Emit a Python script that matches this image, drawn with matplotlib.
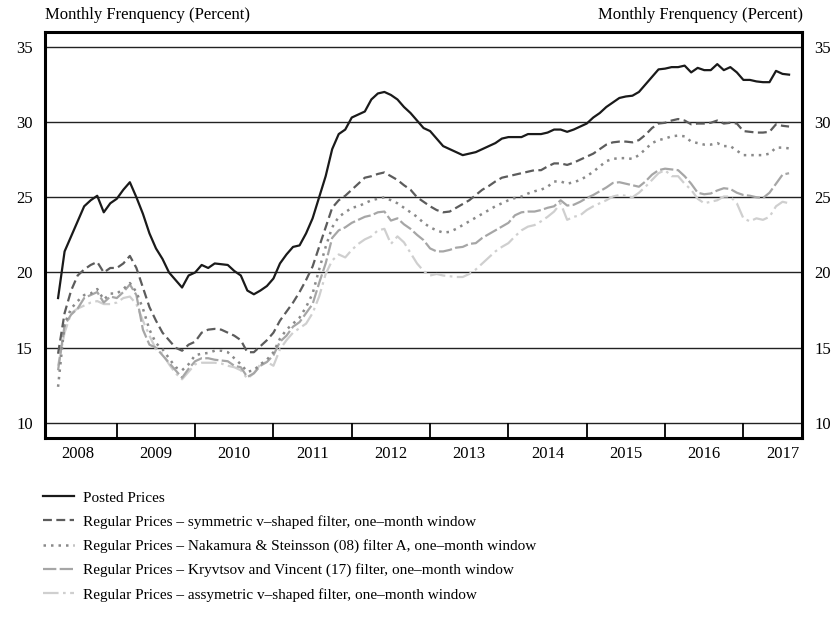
import numpy as np
import matplotlib.pyplot as plt
from matplotlib.ticker import FixedLocator, NullFormatter

plt.rcParams['font.family'] = ['Liberation Serif', 'DejaVu Serif']

# monthly values, Apr 2008 .. Aug 2017
posted = [18.3, 21.4, 22.4, 23.4, 24.4, 24.8, 25.1, 24.0, 24.6,
          24.9, 25.5, 26.0, 25.0, 23.9, 22.6, 21.6, 20.9, 20.0, 19.5, 19.0, 19.8,
          20.0, 20.5, 20.3, 20.6, 20.55, 20.5, 20.1, 19.8, 18.8, 18.55, 18.8, 19.1,
          19.6, 20.6, 21.2, 21.7, 21.8, 22.6, 23.6, 25.0, 26.4, 28.2, 29.2, 29.5,
          30.3, 30.5, 30.7, 31.5, 31.9, 32.0, 31.8, 31.5, 31.0, 30.6, 30.1, 29.6,
          29.4, 28.9, 28.4, 28.2, 28.0, 27.8, 27.9, 28.0, 28.2, 28.4, 28.6, 28.9,
          29.0, 29.0, 29.0, 29.2, 29.2, 29.2, 29.3, 29.5, 29.5, 29.35, 29.5, 29.7,
          29.9, 30.3, 30.6, 31.0, 31.3, 31.6, 31.7, 31.75, 32.0, 32.5, 33.0, 33.5,
          33.55, 33.65, 33.65, 33.75, 33.3, 33.6, 33.45, 33.45, 33.85, 33.45, 33.65, 33.3,
          32.8, 32.8, 32.7, 32.65, 32.65, 33.4, 33.2, 33.15]

sym_v = [14.6, 17.3, 18.8, 19.8, 20.2, 20.5, 20.7, 20.0, 20.3,
         20.3, 20.6, 21.1, 20.3, 19.0, 17.7, 16.8, 16.0, 15.5, 15.0, 14.8, 15.2,
         15.4, 16.0, 16.2, 16.25, 16.2, 16.0, 15.8, 15.5, 14.7, 14.7, 15.1, 15.5,
         16.0, 16.8, 17.4, 18.0, 18.7, 19.5, 20.4, 21.7, 23.0, 24.3, 24.8, 25.1,
         25.5, 25.9, 26.3, 26.4, 26.55, 26.65, 26.4, 26.15, 25.8, 25.5, 25.0, 24.7,
         24.4, 24.15, 24.0, 24.05, 24.3, 24.55, 24.8, 25.15, 25.5, 25.75, 26.05, 26.3,
         26.4, 26.5, 26.6, 26.7, 26.8, 26.8, 27.05, 27.25, 27.25, 27.15, 27.3, 27.5,
         27.7, 27.9, 28.2, 28.5, 28.65, 28.7, 28.7, 28.65, 28.8, 29.15, 29.6, 29.9,
         29.95, 30.1, 30.2, 30.1, 29.85, 29.9, 29.9, 29.95, 30.1, 29.9, 29.95, 29.9,
         29.4, 29.35, 29.3, 29.3, 29.35, 29.85, 29.75, 29.7]

ns_a = [12.4, 16.6, 17.6, 18.1, 18.5, 18.6, 18.9, 18.2, 18.6,
        18.6, 18.9, 19.3, 18.7, 17.6, 16.2, 15.3, 14.9, 14.3, 13.7, 13.5, 13.9,
        14.5, 14.6, 14.65, 14.8, 14.8, 14.7, 14.3, 13.9, 13.4, 13.5, 13.9, 14.2,
        14.7, 15.6, 16.2, 16.6, 17.0, 17.7, 18.6, 20.2, 21.7, 23.0, 23.7, 24.0,
        24.3, 24.4, 24.6, 24.8, 24.9, 25.0, 24.8, 24.6, 24.3, 24.0, 23.7, 23.3,
        23.0, 22.8, 22.65, 22.7, 22.9, 23.15, 23.4, 23.65, 23.9, 24.15, 24.4, 24.6,
        24.8, 24.95, 25.05, 25.25, 25.4, 25.5, 25.7, 26.05, 26.05, 25.9, 26.0, 26.15,
        26.4, 26.7, 27.05, 27.4, 27.55, 27.6, 27.6, 27.55, 27.8, 28.2, 28.6, 28.8,
        28.9, 29.05, 29.1, 29.05, 28.7, 28.6, 28.5, 28.5, 28.6, 28.4, 28.4, 28.1,
        27.8, 27.8, 27.8, 27.8, 27.9, 28.3, 28.3, 28.25]

kv = [13.5, 16.5, 17.2, 17.6, 18.3, 18.5, 18.7, 18.0, 18.4,
      18.3, 18.7, 19.2, 18.5, 16.2, 15.2, 15.0, 14.5, 14.0, 13.5, 13.0, 13.6,
      14.1, 14.3, 14.3, 14.2, 14.15, 14.1, 13.8, 13.7, 13.05, 13.3, 13.8, 14.05,
      14.5, 15.4, 15.8, 16.4, 16.7, 17.3, 17.9, 19.3, 20.6, 22.3, 22.8, 23.0,
      23.3, 23.5, 23.7, 23.8, 24.0, 24.05, 23.45, 23.6, 23.2, 22.9, 22.5, 22.15,
      21.6, 21.4, 21.4, 21.5, 21.65, 21.7, 21.9, 21.95, 22.3, 22.55, 22.8, 23.05,
      23.3, 23.8, 24.0, 24.05, 24.05, 24.15, 24.3, 24.4, 24.8, 24.45, 24.5, 24.7,
      24.95, 25.15, 25.4, 25.65, 25.95, 26.0, 25.9, 25.8, 25.7, 26.05, 26.5, 26.8,
      26.9, 26.85, 26.8, 26.4, 25.9, 25.3, 25.2, 25.25, 25.45, 25.6, 25.55, 25.3,
      25.15, 25.1, 25.0, 24.95, 25.3, 25.9, 26.5, 26.6]

asym_v = [13.8, 16.0, 17.3, 17.6, 17.8, 18.0, 18.1, 17.9, 17.9,
          18.0, 18.3, 18.4, 17.9, 16.8, 15.8, 14.9, 14.6, 13.9, 13.3, 12.9, 13.4,
          13.9, 14.0, 14.0, 14.0, 13.95, 13.8, 13.7, 13.5, 12.95, 13.3, 13.9, 14.05,
          13.8, 14.9, 15.5, 16.0, 16.3, 16.6, 17.3, 18.4, 19.9, 20.8, 21.2, 21.0,
          21.5, 21.9, 22.2, 22.4, 22.8, 22.9, 21.9, 22.4, 22.0, 21.3, 20.6, 20.1,
          19.8, 19.9, 19.8, 19.75, 19.7, 19.7, 19.9, 20.2, 20.6, 21.0, 21.4, 21.7,
          21.95, 22.4, 22.8, 23.05, 23.15, 23.4, 23.7, 24.05, 24.6, 23.5, 23.7, 23.8,
          24.15, 24.4, 24.6, 24.8, 25.05, 25.15, 25.1, 25.0, 25.3, 25.7, 26.15, 26.6,
          26.8, 26.4, 26.4, 25.9, 25.5, 24.9, 24.6, 24.7, 24.8, 25.05, 25.05, 24.6,
          23.6, 23.4, 23.6, 23.5, 23.7, 24.4, 24.7, 24.6]

labels = ['Posted Prices',
          'Regular Prices \u2013 symmetric v\u2013shaped filter, one\u2013month window',
          'Regular Prices \u2013 Nakamura & Steinsson (08) filter A, one\u2013month window',
          'Regular Prices \u2013 Kryvtsov and Vincent (17) filter, one\u2013month window',
          'Regular Prices \u2013 assymetric v\u2013shaped filter, one\u2013month window']
years = list(range(2008, 2018))

t = 2008.25 + np.arange(len(posted)) / 12.0

fig = plt.figure(figsize=(8.36, 6.23), dpi=100)
ax = fig.add_axes([0.054, 0.297, 0.905, 0.652])

ax.plot(t, asym_v, color='#cfcfcf', lw=1.6, dashes=(7, 2, 1.2, 2), label=labels[4])
ax.plot(t, kv, color='#a6a6a6', lw=1.6, dashes=(6, 1.5), label=labels[3])
ax.plot(t, ns_a, color='#8a8a8a', lw=1.8, dashes=(1, 2), label=labels[2])
ax.plot(t, sym_v, color='#5c5c5c', lw=1.6, dashes=(4, 2), label=labels[1])
ax.plot(t, posted, color='#1a1a1a', lw=1.6, label=labels[0])

ax.set_xlim(2008.085, 2017.745)
ax.set_ylim(9.0, 36.0)

# horizontal rules
for v in range(10, 40, 5):
    ax.axhline(v, color='#222222', lw=1.0, zorder=0)

ax.set_yticks(range(10, 40, 5))
ax.tick_params(axis='y', length=0, labelsize=12, pad=9, labelright=True, right=False)

# year boundaries as inward ticks, labels at mid-year
ax.xaxis.set_major_locator(FixedLocator([y + 1 for y in years[:-1]]))
ax.xaxis.set_major_formatter(NullFormatter())
ax.xaxis.set_minor_locator(FixedLocator([y + 0.5 for y in years]))
ax.set_xticklabels([str(y) for y in years], minor=True)
ax.tick_params(axis='x', which='major', direction='in', length=11, width=1.3, color='black')
ax.tick_params(axis='x', which='minor', length=0, labelsize=12, pad=6)

for s in ax.spines.values():
    s.set_linewidth(2.2)
    s.set_color('black')

fig.text(0.054, 0.976, 'Monthly Frenquency (Percent)', fontsize=12, ha='left', va='center')
fig.text(0.961, 0.976, 'Monthly Frenquency (Percent)', fontsize=12, ha='right', va='center')

h, l = ax.get_legend_handles_labels()
fig.legend(h[::-1], l[::-1], loc='upper left', bbox_to_anchor=(0.052, 0.212),
           frameon=False, fontsize=11, handlelength=2.0, handletextpad=0.6,
           labelspacing=0.68, borderpad=0, borderaxespad=0)

fig.savefig('out.png', dpi=100)
